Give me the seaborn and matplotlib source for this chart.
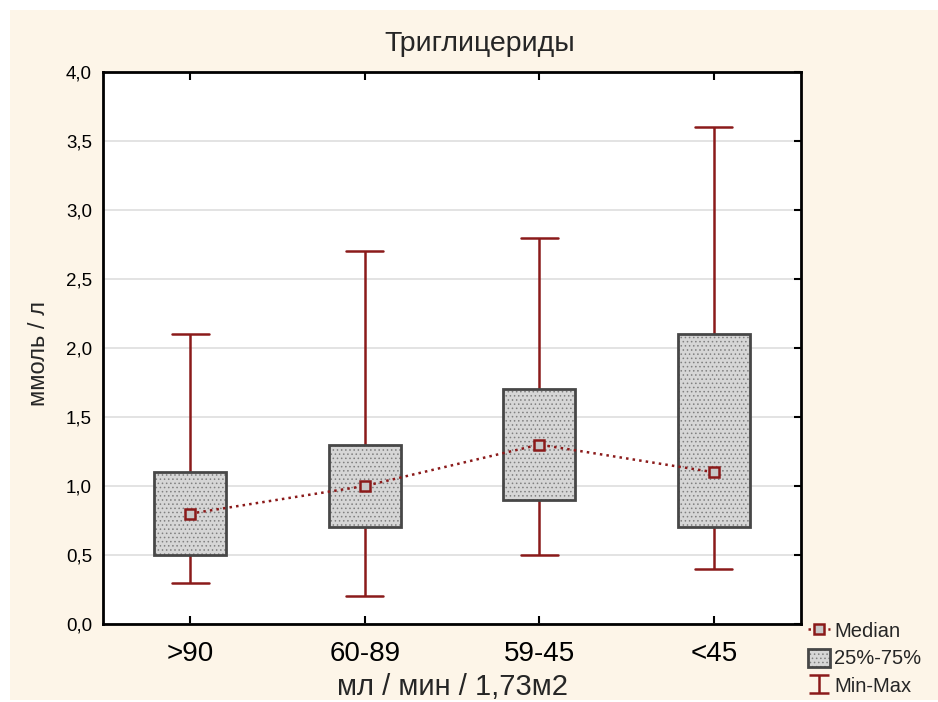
import numpy as np
import pandas as pd
import matplotlib
matplotlib.use("Agg")
import matplotlib.pyplot as plt
import matplotlib.colors as mcolors
from matplotlib.patches import Rectangle, Patch
from matplotlib.lines import Line2D
from matplotlib.legend_handler import HandlerErrorbar
import seaborn as sns

# Данные (читаются с рисунка)
groups = [">90", "60-89", "59-45", "<45"]
mins = [0.3, 0.2, 0.5, 0.4]
q1 = [0.5, 0.7, 0.9, 0.7]
medians = [0.8, 1.0, 1.3, 1.1]
q3 = [1.1, 1.3, 1.7, 2.1]
maxs = [2.1, 2.7, 2.8, 3.6]
y_ticks = [0.0, 0.5, 1.0, 1.5, 2.0, 2.5, 3.0, 3.5, 4.0]

RED = "#8b1a1a"
BOXFILL = "#d6d6d6"
BOXEDGE = "#474747"
DOTS = "#808080"
CREAM = "#fdf5e8"

sns.set_theme(style="white")
plt.rcParams["font.family"] = ["Liberation Sans", "DejaVu Sans"]
plt.rcParams["hatch.linewidth"] = 0.6

# пять точек на группу -> квартили совпадают с min/q1/med/q3/max
rows = []
for i, g in enumerate(groups):
    for v in (mins[i], q1[i], medians[i], q3[i], maxs[i]):
        rows.append({"group": g, "value": v})
df = pd.DataFrame(rows)

fig = plt.figure(figsize=(9.38, 7.02), dpi=100, facecolor="white")
fig.patches.append(Rectangle((10 / 938, 2 / 702), 1, 1 - 12 / 702,
                             transform=fig.transFigure, facecolor=CREAM,
                             edgecolor="none", zorder=-10))
ax = fig.add_axes([103 / 938, 1 - 624 / 702, 698 / 938, 552 / 702])
ax.set_facecolor("white")

sns.boxplot(data=df, x="group", y="value", order=groups, ax=ax,
            whis=(0, 100), width=0.41, color=BOXFILL, linecolor=BOXEDGE,
            linewidth=2, saturation=1,
            whiskerprops={"color": RED, "linewidth": 1.8},
            capprops={"color": RED, "linewidth": 1.8},
            medianprops={"visible": False},
            capwidths=0.21)


def dotted(p):
    p.set_hatch("....")
    p._hatch_color = mcolors.to_rgba(DOTS)


for p in ax.patches:
    dotted(p)
    p.set_zorder(3)

sns.pointplot(x=groups, y=medians, ax=ax, color=RED, markers="s",
              linestyles=":", errorbar=None, markersize=7,
              markerfacecolor="#c8c8c8", markeredgecolor=RED,
              markeredgewidth=1.8, linewidth=1.8, zorder=5)

ax.set_xlim(-0.5, 3.5)
ax.set_ylim(0, 4)
ax.set_yticks(y_ticks)
ax.set_yticklabels([f"{t:.1f}".replace(".", ",") for t in y_ticks])
ax.yaxis.grid(True, color="#dedede", linewidth=1.2)
ax.set_axisbelow(True)
ax.tick_params(axis="y", which="both", left=False, right=True, direction="in",
               length=5, width=1.5, labelsize=13.5, colors="black", pad=8)
ax.tick_params(axis="x", bottom=True, top=True, direction="in", length=6,
               width=1.5, labelsize=20, pad=12, colors="black")
for s in ax.spines.values():
    s.set_visible(True)
    s.set_color("black")
    s.set_linewidth(2)
ax.set_xlabel("")
ax.set_ylabel("")

fig.text(480 / 938, 1 - 44 / 702, "Триглицериды", ha="center", va="center",
         fontsize=20.5)
fig.text(452 / 938, 1 - 687 / 702, "мл / мин / 1,73м2", ha="center",
         va="center", fontsize=21)
fig.text(39 / 938, 1 - 354 / 702, "ммоль / л", ha="center", va="center",
         rotation=90, fontsize=17)

# легенда
eb = ax.errorbar([np.nan], [np.nan], yerr=[[1], [1]], fmt="none",
                 ecolor=RED, capsize=7, elinewidth=1.8, capthick=1.8)
box_handle = Patch(facecolor=BOXFILL, edgecolor=BOXEDGE, linewidth=2)
handles = [
    Line2D([], [], color=RED, linestyle=":", linewidth=1.8, marker="s",
           markersize=7, markerfacecolor="#c8c8c8", markeredgecolor=RED,
           markeredgewidth=1.8),
    box_handle,
    eb,
]
leg = fig.legend(handles, ["Median", "25%-75%", "Min-Max"],
                 loc="upper left", bbox_to_anchor=(808 / 938, 1 - 621 / 702),
                 frameon=False, fontsize=14.5, handlelength=1.1,
                 handleheight=1.0, handletextpad=0.2, labelspacing=0.38,
                 borderpad=0, borderaxespad=0,
                 handler_map={type(eb): HandlerErrorbar(xerr_size=0.4,
                                                        yerr_size=0.45)})
for h in leg.legend_handles:
    if isinstance(h, Patch):
        dotted(h)

fig.savefig("out.png", dpi=100, facecolor="white")
